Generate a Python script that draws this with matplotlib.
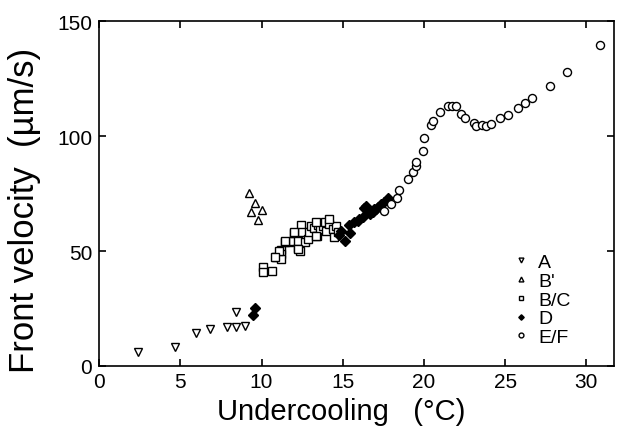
import matplotlib
matplotlib.use("Agg")
import matplotlib.pyplot as plt

plt.rcParams['font.family'] = ['Liberation Sans', 'DejaVu Sans']

# Series A (down triangles)
a_x = [2.39, 4.69, 5.98, 6.84, 7.89, 8.44, 8.97, 8.46]
a_y = [5.9, 8.1, 14.3, 16.1, 17.1, 16.8, 17.3, 23.6]

# Series B' (up triangles)
bp_x = [9.20, 9.61, 9.37, 10.02, 9.77]
bp_y = [75.4, 70.9, 67.1, 68.0, 63.5]

# Series B/C (squares)
bc_x = [10.08, 10.08, 10.62, 10.90, 11.19, 11.21, 11.21, 11.42, 11.72, 11.93,
        12.03, 12.23, 12.34, 12.23, 12.44, 12.48, 12.65, 12.85, 12.95, 13.06,
        13.26, 13.40, 13.46, 13.61, 13.77, 13.88, 13.98, 14.18, 14.39, 14.49,
        14.60, 14.70, 14.18, 13.37, 13.37, 11.10, 10.86, 12.03, 11.42, 12.23]
bc_y = [42.9, 41.0, 41.4, 47.5, 50.4, 48.7, 46.5, 53.8, 54.0, 54.5,
        57.7, 51.2, 50.1, 54.2, 61.3, 58.4, 53.8, 55.2, 58.1, 61.0,
        59.9, 56.4, 61.3, 59.6, 60.7, 62.7, 58.8, 61.7, 59.6, 56.0,
        61.0, 58.1, 63.9, 62.5, 56.7, 50.1, 47.3, 58.1, 54.3, 50.9]

# Series D (filled diamonds)
d_x = [9.47, 9.63, 14.90, 15.11, 14.80, 15.46, 15.37, 15.72, 15.92, 15.98,
       16.23, 16.28, 16.44, 16.54, 16.65, 16.75, 16.85, 16.95, 17.06, 17.16,
       17.37, 17.57, 17.77]
d_y = [22.2, 25.1, 58.8, 54.5, 57.0, 57.8, 61.3, 62.5, 63.2, 63.9,
       64.7, 68.6, 69.4, 66.8, 66.1, 67.5, 66.8, 68.3, 68.3, 69.0,
       70.4, 71.2, 72.9]

# Series E/F (circles)
ef_x = [17.57, 17.98, 18.33, 18.49, 19.00, 19.31, 19.48, 19.52, 19.93, 20.03,
        20.44, 20.58, 21.00, 21.46, 21.74, 21.98, 22.25, 22.55, 23.11, 23.21,
        23.58, 23.83, 24.14, 24.69, 25.20, 25.80, 26.20, 26.66, 27.78, 28.81,
        30.84]
ef_y = [67.5, 70.4, 73.0, 76.5, 81.3, 84.5, 87.1, 88.6, 93.6, 99.1,
        104.9, 106.7, 110.3, 113.2, 113.2, 113.2, 109.6, 107.8, 105.5, 104.6,
        104.9, 104.2, 105.2, 108.1, 109.3, 112.3, 114.6, 116.8, 121.9, 127.7,
        139.6]

x_ticks = [0, 5, 10, 15, 20, 25, 30]
y_ticks = [0, 50, 100, 150]

fig = plt.figure(figsize=(6.19, 4.31), dpi=100)
ax = fig.add_axes([0.160, 0.1485, 0.832, 0.800])

ms = 5.8
mew = 1.0
ax.plot(a_x, a_y, linestyle='none', marker='v', ms=ms, mfc='white', mec='black', mew=mew, label='A')
ax.plot(bp_x, bp_y, linestyle='none', marker='^', ms=ms, mfc='white', mec='black', mew=mew, label="B'")
ax.plot(bc_x, bc_y, linestyle='none', marker='s', ms=5.4, mfc='white', mec='black', mew=mew, label='B/C')
ax.plot(d_x, d_y, linestyle='none', marker='D', ms=4.6, mfc='black', mec='black', mew=mew, label='D')
ax.plot(ef_x, ef_y, linestyle='none', marker='o', ms=ms, mfc='white', mec='black', mew=mew, label='E/F')

ax.set_xlim(0, 31.7)
ax.set_ylim(0, 150)
ax.set_xticks(x_ticks)
ax.set_yticks(y_ticks)
ax.tick_params(direction='in', length=5, width=1.2, labelsize=15, top=True, right=True,
               labeltop=False, labelright=False)
ax.tick_params(axis='x', pad=4)
ax.tick_params(axis='y', pad=5)
for s in ax.spines.values():
    s.set_linewidth(1.2)

ax.set_xlabel('Undercooling   (°C)', fontsize=21)
ax.xaxis.set_label_coords(0.47, -0.09)
ax.set_ylabel('Front velocity  (µm/s)', fontsize=25)
ax.yaxis.set_label_coords(-0.113, 0.455)

leg = ax.legend(loc='lower left', bbox_to_anchor=(0.785, 0.035), frameon=False,
                fontsize=14, markerscale=0.6, handlelength=1.0, handletextpad=0.4,
                labelspacing=0.06, borderaxespad=0)

fig.savefig('out.png', dpi=100)
